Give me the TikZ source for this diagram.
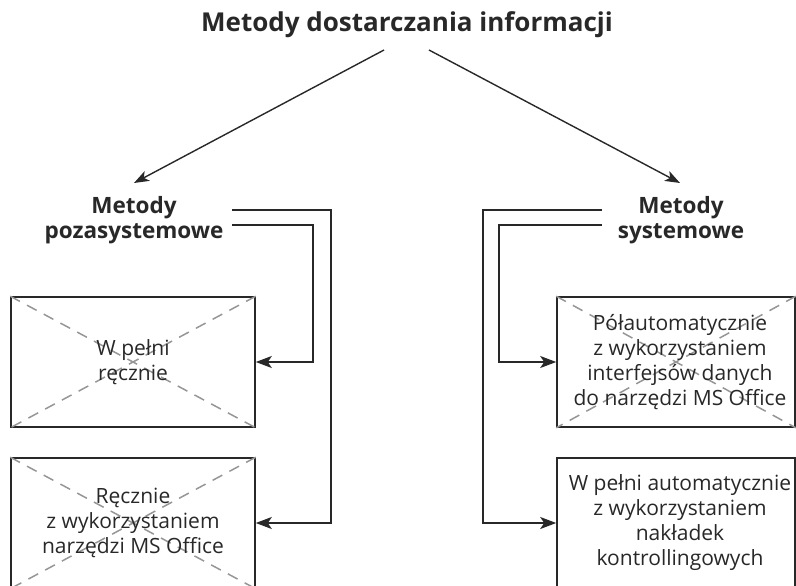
\documentclass[tikz,border=0pt]{standalone}
\usepackage{fontspec}
\setmainfont{Open Sans}
\usetikzlibrary{arrows.meta}
\definecolor{ink}{RGB}{40,40,40}
\definecolor{xgray}{RGB}{150,150,150}
\begin{document}
\begin{tikzpicture}[x=1pt,y=-1pt,
  titletext/.style={font=\fontsize{26}{30}\selectfont\bfseries, text=ink},
  headtext/.style={font=\fontsize{22.5}{25}\selectfont\bfseries, text=ink, align=center},
  boxnode/.style={draw=ink, line width=1.6pt, minimum height=130pt, inner sep=0pt,
    align=center, text=ink, font=\fontsize{21}{25}\selectfont},
  xline/.style={draw=xgray, line width=1.5pt, dash pattern=on 11pt off 8pt},
  conn/.style={draw=ink, line width=1.6pt, -{Stealth[length=16pt,width=12pt,inset=4pt]}},
  tarr/.style={draw=ink, line width=1.4pt, -{Stealth[length=15pt,width=11pt,inset=4pt]}}]
\useasboundingbox (0,0) rectangle (796,586);
\begin{scope}
\clip (0,0) rectangle (796,586);
\node[titletext] (title) at (407,25) {Metody dostarczania informacji};
\node[headtext] (hl) at (134,220) {Metody\\pozasystemowe};
\node[headtext] (hr) at (681,220) {Metody\\systemowe};

\node[boxnode, minimum width=244pt] (b1) at (133,362) {};
\node[boxnode, minimum width=244pt] (b2) at (133,523) {};
\node[boxnode, minimum width=238pt] (b3) at (676,362) {};
\node[boxnode, minimum width=238pt] (b4) at (676,523) {};

\draw[xline] (b1.north west) -- (b1.south east);
\draw[xline] (b1.north east) -- (b1.south west);
\draw[xline] (b2.north west) -- (b2.south east);
\draw[xline] (b2.north east) -- (b2.south west);
\draw[xline] (b3.north west) -- (b3.south east);
\draw[xline] (b3.north east) -- (b3.south west);

\node[boxnode, draw=none] (t1) at (b1.center) {W pełni\\ręcznie};
\node[boxnode, draw=none] (t2) at (b2.center) {Ręcznie\\z wykorzystaniem\\narzędzi MS Office};
\node[boxnode, draw=none] (t3) at (680,362) {Półautomatycznie\\z wykorzystaniem\\interfejsów danych\\do narzędzi MS Office};
\node[boxnode, draw=none] (t4) at (680,523) {W pełni automatycznie\\z wykorzystaniem\\nakładek\\kontrollingowych};

\coordinate (ts1) at (384,50);
\coordinate (ts2) at (429,50);
\coordinate (te1) at (134,183);
\coordinate (te2) at (680,183);
\draw[tarr] (ts1) -- (te1);
\draw[tarr] (ts2) -- (te2);

\coordinate (l1) at (232,210);
\coordinate (l2) at (232,225);
\coordinate (r1) at (602,210);
\coordinate (r2) at (602,225);
\draw[conn] (l1) -- (331,210) |- (b2.east);
\draw[conn] (l2) -- (313,225) |- (b1.east);
\draw[conn] (r1) -- (483,210) |- (b4.west);
\draw[conn] (r2) -- (499,225) |- (b3.west);
\end{scope}
\end{tikzpicture}
\end{document}
